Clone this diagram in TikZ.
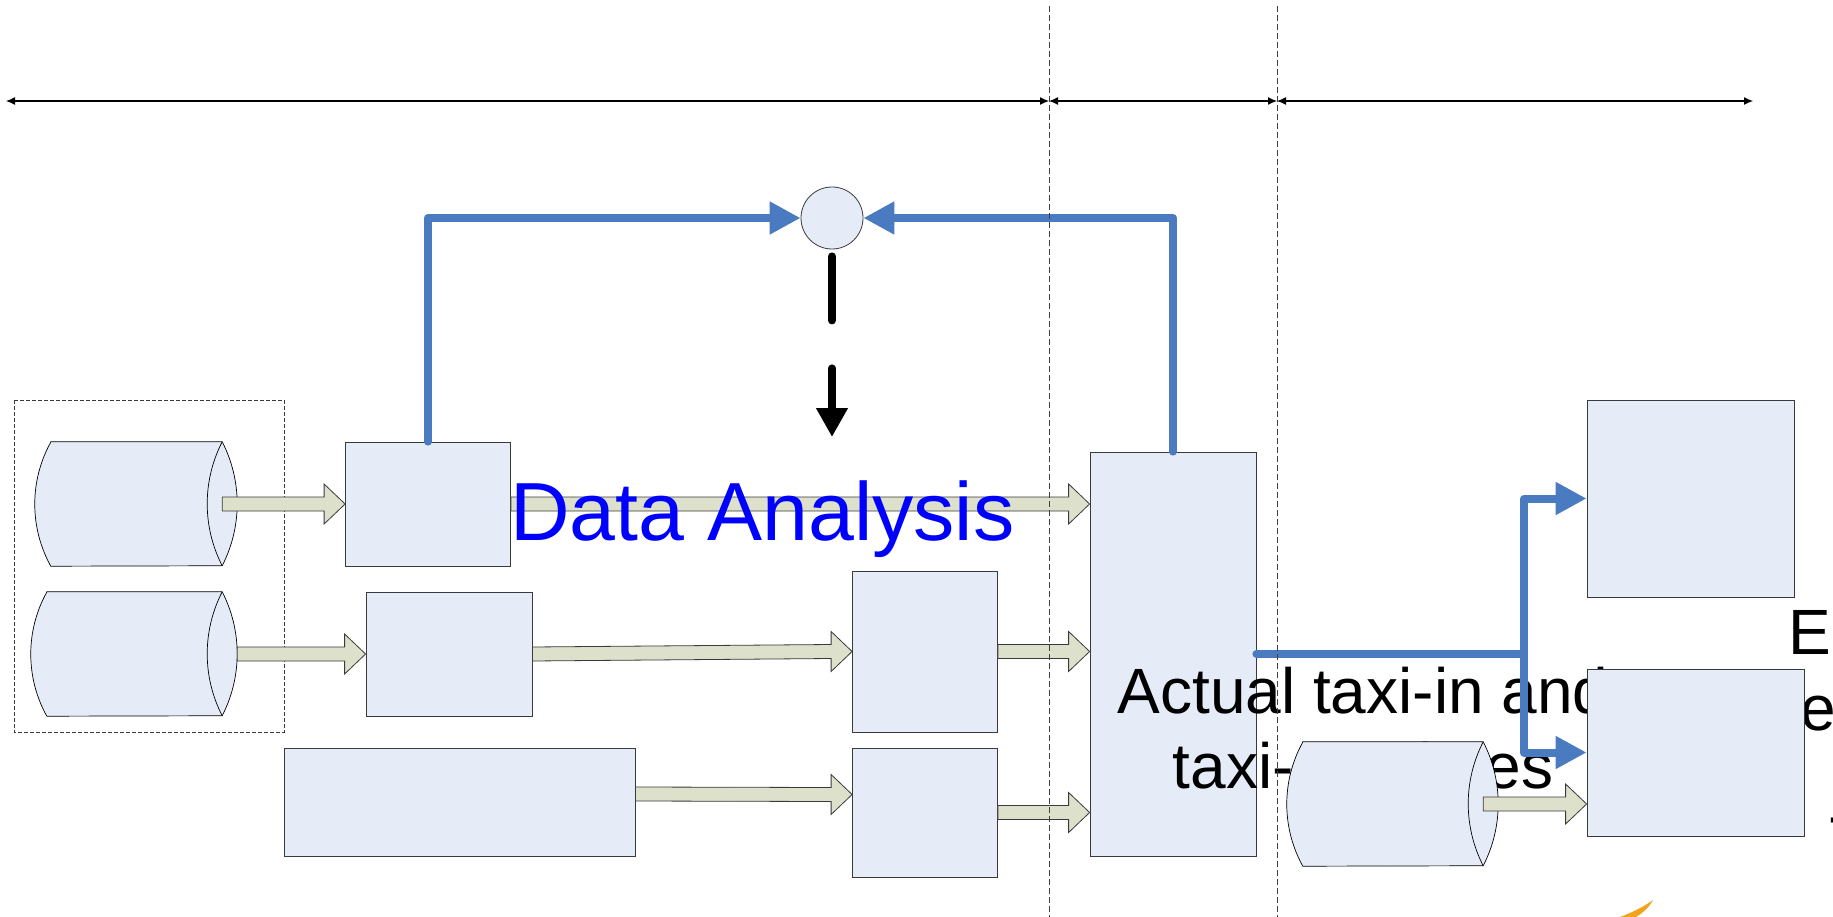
\documentclass[tikz,border=0pt]{standalone}
\usepackage{fontspec}
\setmainfont{Liberation Sans}
\usetikzlibrary{arrows.meta,positioning,calc}
\definecolor{boxfill}{HTML}{E6ECF7}
\definecolor{boxline}{HTML}{3A3A3A}
\definecolor{pipefill}{HTML}{DDE1CB}
\definecolor{linkblue}{HTML}{4A7ABF}
\definecolor{swoosh}{HTML}{F2A31C}

\tikzset{
  box/.style={draw=boxline, fill=boxfill, line width=0.8pt, inner sep=0pt},
  drumline/.style={draw=black, fill=boxfill, line width=0.7pt},
  pipe/.style={draw=boxline, fill=pipefill, line width=0.8pt},
  feedback/.style={draw=linkblue, line width=8pt, line cap=round, line join=round},
  feedarrow/.style={feedback, -{Triangle[length=31pt,width=31pt]}},
  divider/.style={draw=black!75, line width=0.8pt, dash pattern=on 6pt off 3pt},
  span/.style={draw=black, line width=1.2pt, {Latex[length=9pt,width=8pt]}-{Latex[length=9pt,width=8pt]}},
  bigtext/.style={font=\fontsize{64}{75}\selectfont, inner sep=0pt},
}

% fat block arrow between two points
\newcommand{\pipearrow}[2]{%
  \filldraw[pipe] ($(#1)+(0,-7)$) -- ($(#2)+(-21,-7)$) -- ($(#2)+(-21,-20)$) -- (#2)
    -- ($(#2)+(-21,20)$) -- ($(#2)+(-21,7)$) -- ($(#1)+(0,7)$) -- cycle;}

% lying drum (124 high): name, x, y, width
\newcommand{\drum}[4]{%
  \node[minimum width=#4pt, minimum height=124pt, inner sep=0pt] (#1) at (#2,#3) {};
  \filldraw[drumline] ([xshift=16pt]#1.north west) -- ([xshift=-15pt]#1.north east)
    arc[start angle=27.2, end angle=-27.2, radius=135.6pt]
    -- ([xshift=16pt]#1.south west)
    arc[start angle=209, end angle=151, radius=128pt] -- cycle;
  \draw[drumline, fill=none] ([xshift=-15pt]#1.north east)
    arc[start angle=152.8, end angle=207.2, radius=135.6pt];}

\begin{document}
\begin{tikzpicture}[x=1pt, y=-1pt]
\useasboundingbox (0,0) rectangle (1833,917);

% sources
\draw[boxline, line width=0.7pt, dash pattern=on 4pt off 2pt] (14,400) rectangle (284,732);
\drum{cylA}{136}{504}{202}
\drum{cylB}{134}{654}{206}

% processing
\node[box, minimum width=165pt, minimum height=124pt] (boxA) at (428,504) {};
\node[box, minimum width=166pt, minimum height=124pt] (boxB) at (449,654) {};
\node[box, minimum width=351pt, minimum height=108pt] (C) at (459.5,802) {};
\node[box, minimum width=145pt, minimum height=161pt] (D) at (925,651.5) {};
\node[box, minimum width=145pt, minimum height=129pt] (E) at (925,812.5) {};
\node[box, minimum width=166pt, minimum height=404pt] (F) at (1173,654) {};
\node[box, circle, minimum size=62pt] (sum) at (832,218) {};

\pipearrow{[xshift=-15pt]cylA.east}{boxA.west}
\pipearrow{cylB.east}{boxB.west}
\pipearrow{boxA.east}{F.west |- boxA.east}
\pipearrow{boxB.east}{D.west}
\pipearrow{D.east}{F.west |- D.east}
\pipearrow{[yshift=8pt]C.east}{[yshift=18pt]E.west}
\pipearrow{E.east}{F.west |- E.east}

\node[text=blue, font=\fontsize{82.5}{99}\selectfont, anchor=base west, inner sep=0pt] (title) at (510,540) {Data Analysis};
\node[bigtext, align=center, anchor=north] (actual) at (1363,667) {Actual taxi-in and\\taxi-out times};
\node[bigtext, anchor=base west] (cutE) at (1788,654) {E};
\node[bigtext, anchor=base west] (cute) at (1800,730) {e};
\node[bigtext, anchor=base west] (cutdash) at (1828,837) {-};

% outputs
\drum{G}{1392.5}{804}{211}
\node[box, minimum width=217pt, minimum height=167pt] (H) at (1695.5,752.5) {};
\node[box, minimum width=207pt, minimum height=197pt] (I) at (1690.5,498.5) {};
\pipearrow{[xshift=-15pt]G.east}{H.west |- G.east}

% feedback loops
\coordinate (fork) at (1524,654);
\draw[feedarrow] (boxA.north) |- (sum.west);
\draw[feedarrow] (F.north) |- (sum.east);
\draw[feedback] (F.east) -- (fork);
\draw[feedarrow] (fork) |- (I.west);
\draw[feedarrow] (fork) |- (H.west);

\coordinate (dtip) at (832,437);
\draw[black, line width=8pt, line cap=round, dash pattern=on 64pt off 48pt, -{Triangle[length=29pt,width=30pt]}] ([yshift=-7pt]sum.south) -- (dtip);

% phases
\coordinate (lineA) at (1049,6);
\coordinate (lineAb) at (1049,917);
\coordinate (lineB) at (1277,6);
\coordinate (lineBb) at (1277,917);
\coordinate (spanL) at (6,101);
\coordinate (spanR) at (1753,101);
\draw[divider] (lineA) -- (lineAb);
\draw[divider] (lineB) -- (lineBb);
\draw[span] (spanL) -- (spanL -| lineA);
\draw[span] (spanL -| lineA) -- (spanL -| lineB);
\draw[span] (spanL -| lineB) -- (spanR);

\fill[swoosh] (1620,917) .. controls (1636,911) and (1646,905) .. (1653,900) .. controls (1649,908) and (1641,914) .. (1636,917) -- cycle;
\end{tikzpicture}
\end{document}
